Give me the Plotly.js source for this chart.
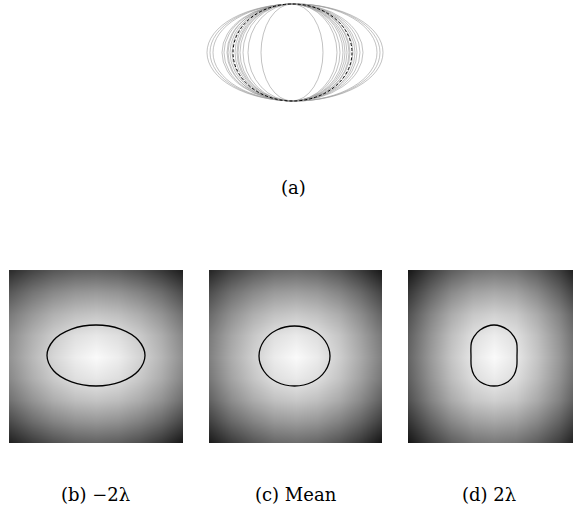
<!DOCTYPE html>
<html>
<head>
<meta charset="utf-8">
<script src="https://cdn.plot.ly/plotly-3.0.1.min.js"></script>
<style>
html,body{margin:0;padding:0;overflow:hidden;background:#fff;}
#chart{width:582px;height:512px;}
</style>
</head>
<body>
<div id="chart"></div>
<script>
// ---- Panel (a): overlaid shape outlines (left / right extents, px offsets from centre) ----
const ellipseLeft  = [-32,-45,-50,-53,-55,-56,-58,-61,-63,-65,-66,-69,-71,-80,-83,-86];
const ellipseRight = [ 30, 44, 47, 50, 56, 52, 54, 57, 62, 60, 64, 67, 70, 84, 87, 90];
const ellipseHalfHeight = 48.5;
const meanLeft = -60, meanRight = 59;

// ---- Heatmap grid sample positions ----
const gridX = [-86,-64.5,-43,-21.5,0,21.5,43,64.5,86];
const gridY = [-86,-64.5,-43,-21.5,0,21.5,43,64.5,86];

// grey levels (0-255), rows from bottom (y=-86) to top (y=+86)
const zB = [
  [32,58,79,93,97,92,78,54,22],
  [76,108,131,146,151,145,129,105,70],
  [114,147,173,190,196,189,172,146,110],
  [138,174,202,223,231,222,201,172,134],
  [148,184,214,237,250,237,213,182,144],
  [142,176,203,223,231,222,202,173,136],
  [122,152,176,191,197,190,173,147,113],
  [88,116,136,149,153,147,131,108,76],
  [46,70,88,98,100,94,80,58,32]
];
const zC = [
  [26,58,84,102,107,101,83,56,18],
  [66,104,131,151,157,150,130,101,61],
  [99,140,171,192,200,191,170,138,95],
  [121,163,197,223,233,222,196,161,118],
  [130,172,207,235,250,235,206,170,127],
  [125,165,198,223,233,222,197,162,120],
  [107,144,174,193,201,192,172,140,99],
  [78,112,137,154,159,152,133,105,67],
  [40,70,92,106,110,104,87,60,26]
];
const zD = [
  [20,61,93,114,120,114,93,61,18],
  [52,98,135,159,167,159,135,98,50],
  [80,130,170,198,208,198,170,130,79],
  [94,146,189,221,235,221,189,146,93],
  [100,153,197,231,250,231,197,153,100],
  [95,147,190,222,236,222,190,147,95],
  [81,131,171,199,209,199,171,131,81],
  [55,100,137,161,169,161,136,98,50],
  [24,64,95,116,122,116,95,62,18]
];

// ---- Contours (px offsets from panel centre, y up) ----
const contourBX = [49,42.4,24.5,0,-24.5,-42.4,-49,-42.4,-24.5,0,24.5,42.4,49];
const contourBY = [1,16.25,27.4,31.5,27.4,16.25,1,-14.25,-25.4,-29.5,-25.4,-14.25,1];
const contourCX = [34.5,29.7,16.75,-1,-18.75,-31.7,-36.5,-31.7,-18.75,-1,16.75,29.7,34.5];
const contourCY = [0.5,15.5,26.5,30.5,26.5,15.5,0.5,-14.5,-25.5,-29.5,-25.5,-14.5,0.5];
const contourDX = [23,22.7,20,14,0,-14,-20,-22.7,-23,-22.7,-20,-14,0,14,20,22.7,23];
const contourDY = [0,13.5,19.8,26.5,31.5,26.5,19.8,13.5,0,-10.2,-18.5,-25.2,-29.5,-25.2,-18.5,-10.2,0];

// ---- Labels ----
const labelA = "(a)";
const panelLabels = ["(b) \u22122\u03bb", "(c) Mean", "(d) 2\u03bb"];

const W = 582, H = 512;
const px = v => v / W;
const py = v => 1 - v / H;

const grayScale = [[0,'#000000'],[1,'#ffffff']];
function heat(z, xa, ya){
  return {type:'heatmap', x:gridX, y:gridY, z:z, xaxis:xa, yaxis:ya,
    colorscale:grayScale, zmin:0, zmax:255, zsmooth:'best', showscale:false, hoverinfo:'skip'};
}
function contour(xs, ys, xa, ya){
  return {type:'scatter', mode:'lines', x:xs, y:ys, xaxis:xa, yaxis:ya,
    line:{color:'#000', width:1.3, shape:'spline', smoothing:1}, hoverinfo:'skip', showlegend:false};
}

const data = [
  heat(zB,'x','y'), contour(contourBX, contourBY,'x','y'),
  heat(zC,'x2','y2'), contour(contourCX, contourCY,'x2','y2'),
  heat(zD,'x3','y3'), contour(contourDX, contourDY,'x3','y3'),
  {type:'scatter', mode:'markers', x:[0], y:[0], xaxis:'x4', yaxis:'y4', marker:{opacity:0}, hoverinfo:'skip', showlegend:false}
];

const shapes = [];
for (let i = 0; i < ellipseLeft.length; i++) {
  shapes.push({type:'circle', xref:'x4', yref:'y4', x0:ellipseLeft[i], x1:ellipseRight[i],
    y0:-ellipseHalfHeight, y1:ellipseHalfHeight, line:{color:'#999999', width:0.6}});
}
shapes.push({type:'circle', xref:'x4', yref:'y4', x0:meanLeft, x1:meanRight,
  y0:-ellipseHalfHeight, y1:ellipseHalfHeight, line:{color:'#000', width:1, dash:'3px,2px'}});

const hid = {visible:false, fixedrange:true, showgrid:false, zeroline:false};
const yDom = [py(443), py(270)];
const labelFont = {family:'DejaVu Serif', size:18, color:'#000'};
const layout = {
  width:W, height:H, margin:{l:0,r:0,t:0,b:0},
  paper_bgcolor:'#fff', plot_bgcolor:'#fff', showlegend:false,
  xaxis: Object.assign({domain:[px(9),px(183)], range:[-87,87]}, hid),
  yaxis: Object.assign({domain:yDom, range:[-86.5,86.5]}, hid),
  xaxis2: Object.assign({domain:[px(209),px(382)], range:[-86.5,86.5]}, hid),
  yaxis2: Object.assign({domain:yDom, range:[-86.5,86.5]}, hid),
  xaxis3: Object.assign({domain:[px(408),px(580)], range:[-86,86]}, hid),
  yaxis3: Object.assign({domain:yDom, range:[-86.5,86.5]}, hid),
  xaxis4: Object.assign({domain:[px(193),px(393)], range:[-100,100]}, hid),
  yaxis4: Object.assign({domain:[py(105),1], range:[-52.5,52.5]}, hid),
  shapes: shapes,
  annotations: [
    {text:labelA, x:px(293), y:py(187), xref:'paper', yref:'paper', showarrow:false,
     xanchor:'center', yanchor:'middle', font:labelFont},
    {text:panelLabels[0], x:px(95), y:py(494), xref:'paper', yref:'paper', showarrow:false,
     xanchor:'center', yanchor:'middle', font:labelFont},
    {text:panelLabels[1], x:px(296), y:py(494), xref:'paper', yref:'paper', showarrow:false,
     xanchor:'center', yanchor:'middle', font:labelFont},
    {text:panelLabels[2], x:px(489), y:py(494), xref:'paper', yref:'paper', showarrow:false,
     xanchor:'center', yanchor:'middle', font:labelFont}
  ]
};

Plotly.newPlot('chart', data, layout, {staticPlot:true, displayModeBar:false});
</script>
</body>
</html>
